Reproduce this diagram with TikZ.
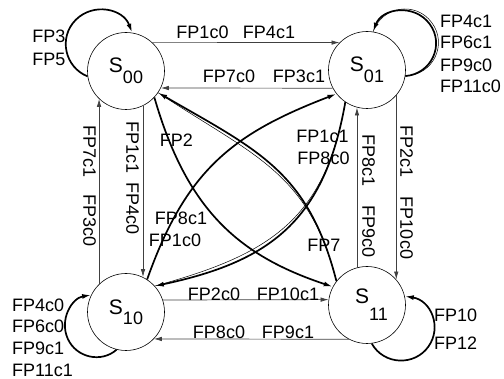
\documentclass[tikz,border=0pt]{standalone}
\usepackage{fontspec}
\setmainfont{Liberation Sans}
\usetikzlibrary{arrows.meta}
\newcommand{\statelab}[2]{{\fontsize{21}{21}\selectfont S}\raisebox{#2}{#1}}
\begin{document}
\begin{tikzpicture}[x=1pt, y=-1pt, font=\fontsize{18}{20}\selectfont,
  state/.style={circle, draw, line width=0.6pt, minimum size=77pt, inner sep=0pt},
  thinedge/.style={draw=black!75, line width=0.7pt, -{Latex[length=8pt,width=4.5pt]}},
  thickedge/.style={line width=1.7pt, -{Latex[length=9pt,width=5pt]}},
  ghost/.style={line width=0.5pt},
  lbl/.style={inner sep=0pt},
  vlbl/.style={inner sep=0pt, rotate=-90}]
\useasboundingbox (0,0) rectangle (504,379);

% states
\node[state] (s00) at (126,71) {\statelab{00}{-11pt}};
\node[state] (s01) at (367,70) {\statelab{01}{-11pt}};
\node[state] (s10) at (126,312) {\statelab{10}{-10pt}};
\node[state] (s11) at (367,305) {\hspace*{9pt}\statelab{11}{-17pt}};

% orthogonal transitions
\draw[thinedge] (s00.47) -- (s01.135);
\draw[thinedge] (s01.208) -- (s00.334);
\draw[thinedge] (s00.296) -- (s10.64);
\draw[thinedge] (s10.134) -- (s00.226);
\draw[thinedge] (s01.319) -- (s11.41);
\draw[thinedge] (s11.105) -- (s01.255);
\draw[thinedge] (s10.18) -- (s11.172);
\draw[thinedge] (s11.242) -- (s10.316);

% diagonal transitions
\draw[thickedge] (s00.-43) .. controls (186.5,208.6) and (237.1,255) .. (s11.152);
\draw[thickedge] (s11.142) .. controls (308.4,171.7) and (258.3,150.5) .. (s00.-34);
\draw[ghost] (s11.142) .. controls (308.4,171.7) and (254.8,156.5) .. (s00.-34);
\draw[thickedge] (s10.57) .. controls (186.1,169.5) and (233.3,133.5) .. (s01.218);
\draw[thickedge] (s01.236) .. controls (324.6,221.2) and (269.4,261.8) .. (s10.42);
\draw[ghost] (s01.236) .. controls (324.6,221.2) and (267.9,255) .. (s10.42);

% self loops
\draw[thickedge] (s00.188) .. controls (64.7,67.2) and (58.2,37.4) .. (75.8,19.8)
  .. controls (93.4,2.2) and (123.2,8.7) .. (s00.81);
\draw[thickedge] (s01.-9) .. controls (431.6,74) and (445,44.5) .. (429.6,23.9)
  .. controls (414.2,3.3) and (382.1,8) .. (s01.81);
\draw[ghost] (s01.-9) .. controls (433.5,75) and (448,44) .. (431.6,22.4)
  .. controls (415.8,1) and (382,6) .. (s01.81);
\draw[thickedge] (s10.256) .. controls (101.4,363.2) and (76.3,357.9) .. (67.7,338.6)
  .. controls (59.1,319.3) and (72,298.1) .. (s10.154);
\draw[thickedge] (s11.-83) .. controls (383.8,365.1) and (414.4,366.3) .. (428.4,346.6)
  .. controls (442.4,326.9) and (430.8,300.2) .. (s11.13);

% edge labels
\node[lbl] (l1) at (202.5,32) {FP1c0};
\node[lbl] (l2) at (269,32) {FP4c1};
\node[lbl] (l3) at (229,76) {FP7c0};
\node[lbl] (l4) at (299,76) {FP3c1};
\node[vlbl] (l5) at (132.5,148) {FP1c1};
\node[vlbl] (l6) at (132.5,209) {FP4c0};
\node[vlbl] (l7) at (89.5,152) {FP7c1};
\node[vlbl] (l8) at (89.5,221) {FP3c0};
\node[vlbl] (l9) at (368.5,161) {FP8c1};
\node[vlbl] (l10) at (368.5,232) {FP9c0};
\node[vlbl] (l11) at (406.5,152) {FP2c1};
\node[vlbl] (l12) at (406.5,228) {FP10c0};
\node[lbl] (l13) at (214,294) {FP2c0};
\node[lbl] (l14) at (288,294) {FP10c1};
\node[lbl] (l15) at (219,332) {FP8c0};
\node[lbl] (l16) at (288,332) {FP9c1};

% loop labels
\node[lbl] (a1) at (49,36.5) {FP3};
\node[lbl] (a2) at (49,59) {FP5};
\node[lbl, anchor=west] (b1) at (440,21) {FP4c1};
\node[lbl, anchor=west] (b2) at (440,42.5) {FP6c1};
\node[lbl, anchor=west] (b3) at (440,65) {FP9c0};
\node[lbl, anchor=west] (b4) at (440,86.5) {FP11c0};
\node[lbl, anchor=west] (c1) at (12,305) {FP4c0};
\node[lbl, anchor=west] (c2) at (12,326) {FP6c0};
\node[lbl, anchor=west] (c3) at (12,348) {FP9c1};
\node[lbl, anchor=west] (c4) at (12,370) {FP11c1};
\node[lbl, anchor=west] (d1) at (434,315) {FP10};
\node[lbl, anchor=west] (d2) at (434,343) {FP12};

% diagonal labels
\node[lbl] (e1) at (176.5,140) {FP2};
\node[lbl] (e2) at (324,245) {FP7};
\node[lbl] (e3) at (181,218.5) {FP8c1};
\node[lbl] (e4) at (175,240) {FP1c0};
\node[lbl] (e5) at (322.5,136.5) {FP1c1};
\node[lbl] (e6) at (323.5,158.5) {FP8c0};
\end{tikzpicture}
\end{document}
